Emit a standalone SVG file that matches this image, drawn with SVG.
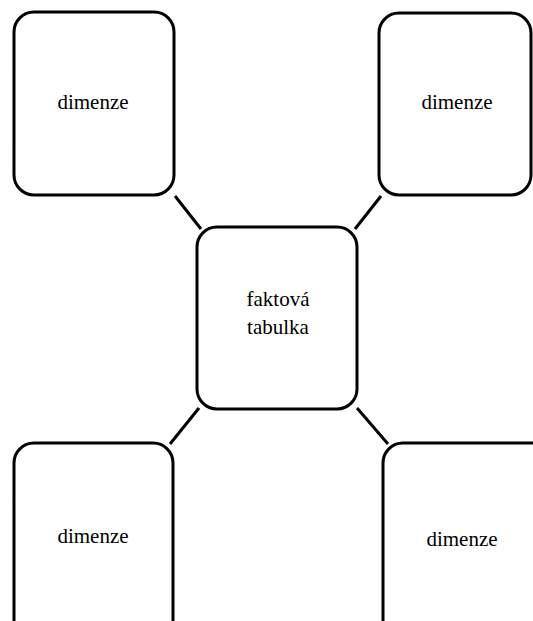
<svg xmlns="http://www.w3.org/2000/svg" width="533" height="621" viewBox="0 0 533 621">
<style>
.box{fill:#fff;stroke:#000;stroke-width:3}
.lbl{font-family:"Liberation Serif","Times New Roman",serif;font-size:21px;fill:#000;text-anchor:middle}
.con{stroke:#000;stroke-width:3;fill:none}
</style>
<rect width="533" height="621" fill="#fff"/>
<g id="connectors">
<line class="con" x1="175" y1="196" x2="201" y2="229"/>
<line class="con" x1="381" y1="196" x2="355" y2="229"/>
<line class="con" x1="199" y1="408" x2="170" y2="444"/>
<line class="con" x1="357" y1="408" x2="388" y2="444"/>
</g>
<g id="dim-tl">
<rect class="box" x="14" y="12" width="160" height="183" rx="20"/>
<text class="lbl" x="93" y="109">dimenze</text>
</g>
<g id="dim-tr">
<rect class="box" x="379" y="13" width="152" height="182" rx="20"/>
<text class="lbl" x="457" y="109">dimenze</text>
</g>
<g id="fact">
<rect class="box" x="197" y="227" width="160" height="182" rx="20"/>
<text class="lbl" x="278" y="306">faktová</text>
<text class="lbl" x="278" y="334">tabulka</text>
</g>
<g id="dim-bl">
<rect class="box" x="14" y="443" width="159" height="200" rx="20"/>
<text class="lbl" x="93" y="543">dimenze</text>
</g>
<g id="dim-br">
<rect class="box" x="383" y="443" width="170" height="200" rx="20"/>
<text class="lbl" x="462" y="546">dimenze</text>
</g>
</svg>
